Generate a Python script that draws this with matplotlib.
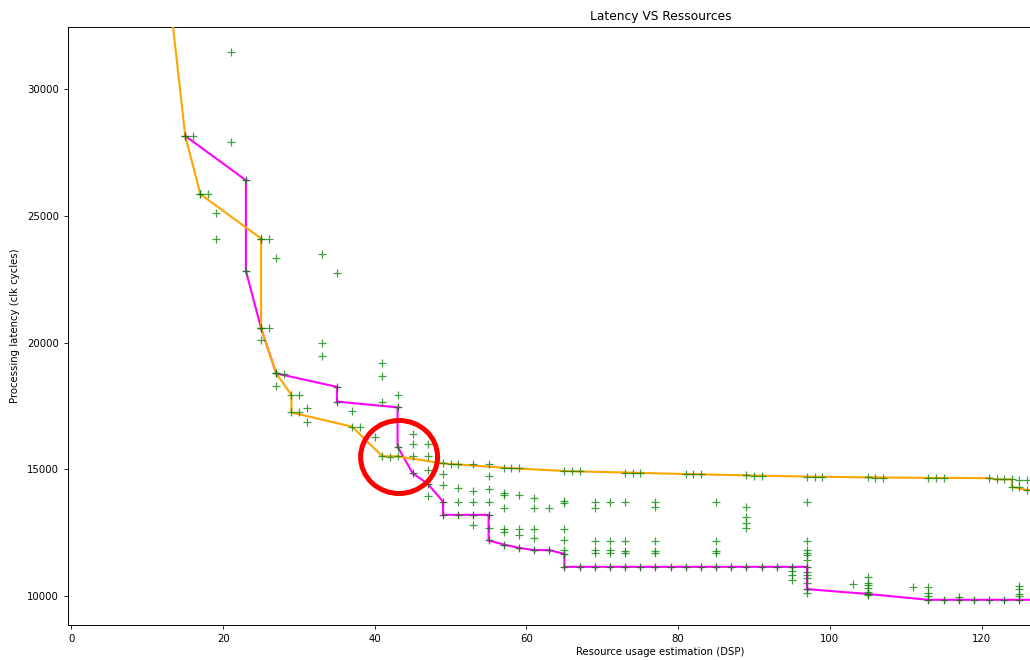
import matplotlib
matplotlib.use("Agg")
import matplotlib.pyplot as plt
from matplotlib.patches import Ellipse

# ---- design space: every explored configuration (DSP count, latency) ----
other_dsp = [
    13, 21, 16, 21, 17, 18, 19, 19, 25, 26, 27, 33, 35,
    26, 25, 33, 33, 41, 41, 28, 27,
    30, 43, 41, 31, 37, 30, 31, 38, 45, 40,
    45, 47, 42, 45, 47,
    50, 51, 53, 55, 58, 59, 47, 66, 67, 49, 74, 75, 55, 82, 83, 90, 91, 98, 99,
    106, 107, 114, 115, 123, 125, 126, 125,
    49, 51, 55, 53, 57, 57, 59, 47, 61, 65, 65,
    51, 53, 55, 69, 71, 73, 77, 85, 97,
    57, 61, 63, 69, 77, 89,
    89, 89, 89,
    53, 55, 57, 57, 59, 59, 61, 61, 65,
    65, 69, 71, 73, 77, 85, 97,
    65, 69, 71, 73, 77, 85, 97,
    69, 71, 73, 77, 85, 97,
    97, 97,
    95, 95, 95, 97, 97, 97, 97, 97,
    103, 105, 105, 105, 105, 105, 105,
    111, 113, 113, 113, 117, 125, 125, 125, 125,
]
other_latency = [
    33500, 31470, 28150, 27920, 25850, 25850, 25100, 24080, 24100, 24100, 23340, 23510, 22740,
    20560, 20080, 19970, 19470, 19180, 18690, 18760, 18270,
    17930, 17910, 17650, 17400, 17290, 17240, 16880, 16650, 16390, 16260,
    16000, 15990, 15500, 15520, 15520,
    15220, 15220, 15220, 15190, 15050, 15050, 14990, 14920, 14920, 14830, 14870, 14870, 14730, 14800, 14800, 14750, 14750, 14700, 14700,
    14670, 14670, 14650, 14650, 14600, 14560, 14560, 14310,
    14360, 14250, 14210, 14130, 14080, 13990, 13980, 13950, 13850, 13760, 13680,
    13710, 13710, 13710, 13700, 13700, 13700, 13700, 13700, 13700,
    13480, 13480, 13480, 13480, 13500, 13500,
    13100, 12890, 12690,
    12800, 12670, 12660, 12540, 12660, 12420, 12660, 12290, 12640,
    12190, 12180, 12180, 12160, 12160, 12160, 12150,
    11800, 11800, 11800, 11780, 11780, 11780, 11800,
    11710, 11710, 11680, 11680, 11680, 11710,
    11620, 11420,
    10980, 10820, 10650, 10960, 10830, 10700, 10500, 10100,
    10470, 10760, 10520, 10450, 10330, 10170, 10030,
    10370, 10370, 10110, 10000, 9980, 10380, 10290, 10090, 9990,
]

# ---- latency-oriented front (orange) ----
front_a_dsp = [13, 15, 17, 25, 25, 27, 29, 29, 37, 41, 43, 49, 57, 65, 73, 81,
               89, 97, 105, 113, 121, 122, 124, 124, 126, 128]
front_a_latency = [33500, 28150, 25850, 24100, 20560, 18780, 17930, 17240, 16680,
                   15510, 15510, 15230, 15060, 14930, 14870, 14810, 14760, 14710,
                   14680, 14660, 14650, 14600, 14600, 14310, 14180, 14120]

# ---- resource-oriented front (magenta) ----
front_b_dsp = [15, 23, 23, 25, 27, 35, 35, 43, 43, 45, 47, 49, 49, 51, 53, 55, 55,
               57, 59, 61, 63, 65, 65, 67, 69, 71, 73, 75, 77, 79, 81, 83, 85, 87,
               89, 91, 93, 95, 97, 97, 105, 113, 115, 117, 119, 121, 123, 125, 127]
front_b_latency = [28150, 26400, 22830, 20560, 18780, 18250, 17670, 17440, 15890,
                   14840, 14420, 13720, 13200, 13200, 13200, 13200, 12190, 12030,
                   11900, 11810, 11810, 11660, 11150, 11150, 11150, 11150, 11150,
                   11150, 11150, 11150, 11150, 11150, 11150, 11150, 11150, 11150,
                   11150, 11150, 11150, 10270, 10080, 9850, 9850, 9850, 9850, 9850,
                   9850, 9850, 9850]

x_ticks = [0, 20, 40, 60, 80, 100, 120]
y_ticks = [10000, 15000, 20000, 25000, 30000]

all_dsp = other_dsp + front_a_dsp + front_b_dsp
all_latency = other_latency + front_a_latency + front_b_latency

fig = plt.figure(figsize=(10.3, 6.6), dpi=100)
W, H = 1030, 660
ax = fig.add_axes([68 / W, 35 / H, 1185 / W, 598 / H])

ax.plot(front_b_dsp, front_b_latency, color="magenta", lw=1.5, marker="+",
        ms=5, mew=0.9, zorder=2)
ax.plot(front_a_dsp, front_a_latency, color="orange", lw=1.5, zorder=3)
ax.scatter(all_dsp, all_latency, marker="+", s=28, linewidths=0.9,
           color="green", alpha=0.75, zorder=4)

# highlight around the crossing of the two fronts
ax.add_patch(Ellipse((43.2, 15483), 10.15, 2880, fill=False, edgecolor="red",
                     lw=3.6, zorder=6, clip_on=False))

ax.set_xlim(-0.46, 155.8)
ax.set_ylim(8856, 32446)
ax.set_xticks(x_ticks)
ax.set_yticks(y_ticks)
ax.tick_params(labelsize=7.3, length=2.8, width=0.6)
for s in ax.spines.values():
    s.set_linewidth(0.7)

ax.set_title("Latency VS Ressources", fontsize=8.8, pad=5)
ax.set_xlabel("Resource usage estimation (DSP)", fontsize=7.3, labelpad=2)
ax.set_ylabel("Processing latency (clk cycles)", fontsize=7.3, labelpad=5)

fig.savefig("out.png", dpi=100)
